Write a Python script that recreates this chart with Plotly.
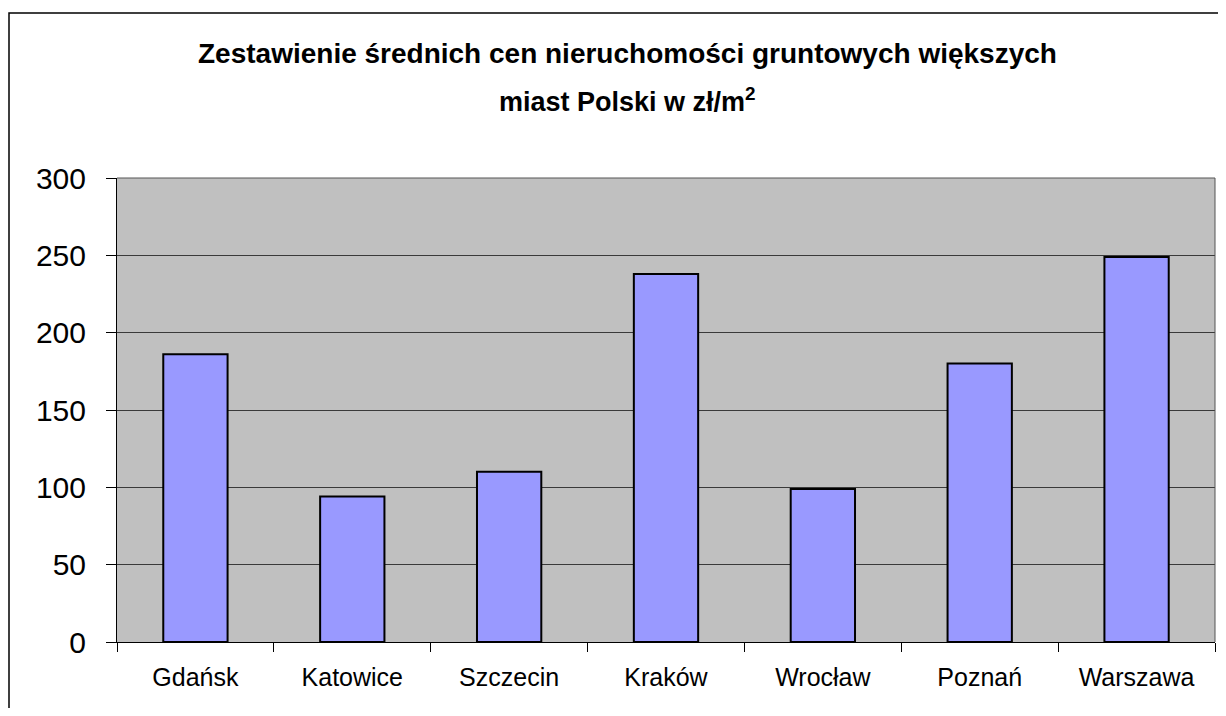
import plotly.graph_objects as go

cities = ["Gdańsk", "Katowice", "Szczecin", "Kraków", "Wrocław", "Poznań", "Warszawa"]
prices = [186, 94, 110, 238, 99, 180, 249]
y_ticks = [0, 50, 100, 150, 200, 250, 300]

# page body has an 8px margin, so the figure is placed at (8, 8)
W, H = 1210, 700
ml, mr, mt, mb = 109, 3, 170, 66
pw, ph = W - ml - mr, H - mt - mb

def px(x):
    return (x - ml) / pw

def py(y):
    return 1 - (y - mt) / ph

FONT = "Liberation Sans, Arial, sans-serif"

fig = go.Figure()
fig.add_trace(go.Bar(
    x=cities, y=prices,
    marker=dict(color="#9999FF", line=dict(color="black", width=2)),
    showlegend=False,
))

fig.update_layout(
    width=W, height=H,
    margin=dict(l=ml, r=mr, t=mt, b=mb),
    paper_bgcolor="white",
    plot_bgcolor="#C0C0C0",
    bargap=0.59,
    font=dict(family=FONT, color="black"),
    xaxis=dict(
        showline=True, linecolor="black", linewidth=1,
        ticks="outside", ticklen=9, tickcolor="black",
        tickson="boundaries",
        tickfont=dict(size=25), showgrid=False,
        ticklabelstandoff=13,
    ),
    yaxis=dict(
        range=[0, 300], tickvals=y_ticks,
        showline=True, linecolor="black", linewidth=1,
        ticks="outside", ticklen=10, tickcolor="black",
        tickfont=dict(size=30), showgrid=True, gridcolor="#3a3a3a", gridwidth=1,
        zeroline=False, ticklabelstandoff=14,
    ),
    annotations=[
        dict(
            text="<b>Zestawienie średnich cen nieruchomości gruntowych większych</b>",
            x=px(619.5), y=py(45),
            xref="paper", yref="paper", xanchor="center", yanchor="middle",
            showarrow=False, font=dict(size=28, family=FONT),
        ),
        dict(
            text="<b>miast Polski w zł/m<sup>2</sup></b>",
            x=px(619.5), y=py(92),
            xref="paper", yref="paper", xanchor="center", yanchor="middle",
            showarrow=False, font=dict(size=27, family=FONT),
        ),
    ],
    shapes=[
        dict(type="rect", xref="paper", yref="paper",
             x0=px(1), x1=px(W + 20), y0=py(H + 20), y1=py(5),
             line=dict(color="black", width=1.5), fillcolor="rgba(0,0,0,0)", layer="below"),
        dict(type="line", xref="paper", yref="paper", x0=0, x1=1, y0=1, y1=1,
             line=dict(color="#555555", width=1)),
        dict(type="line", xref="paper", yref="paper", x0=1, x1=1, y0=0, y1=1,
             line=dict(color="#555555", width=1)),
    ],
)

fig.write_html("out.html")
